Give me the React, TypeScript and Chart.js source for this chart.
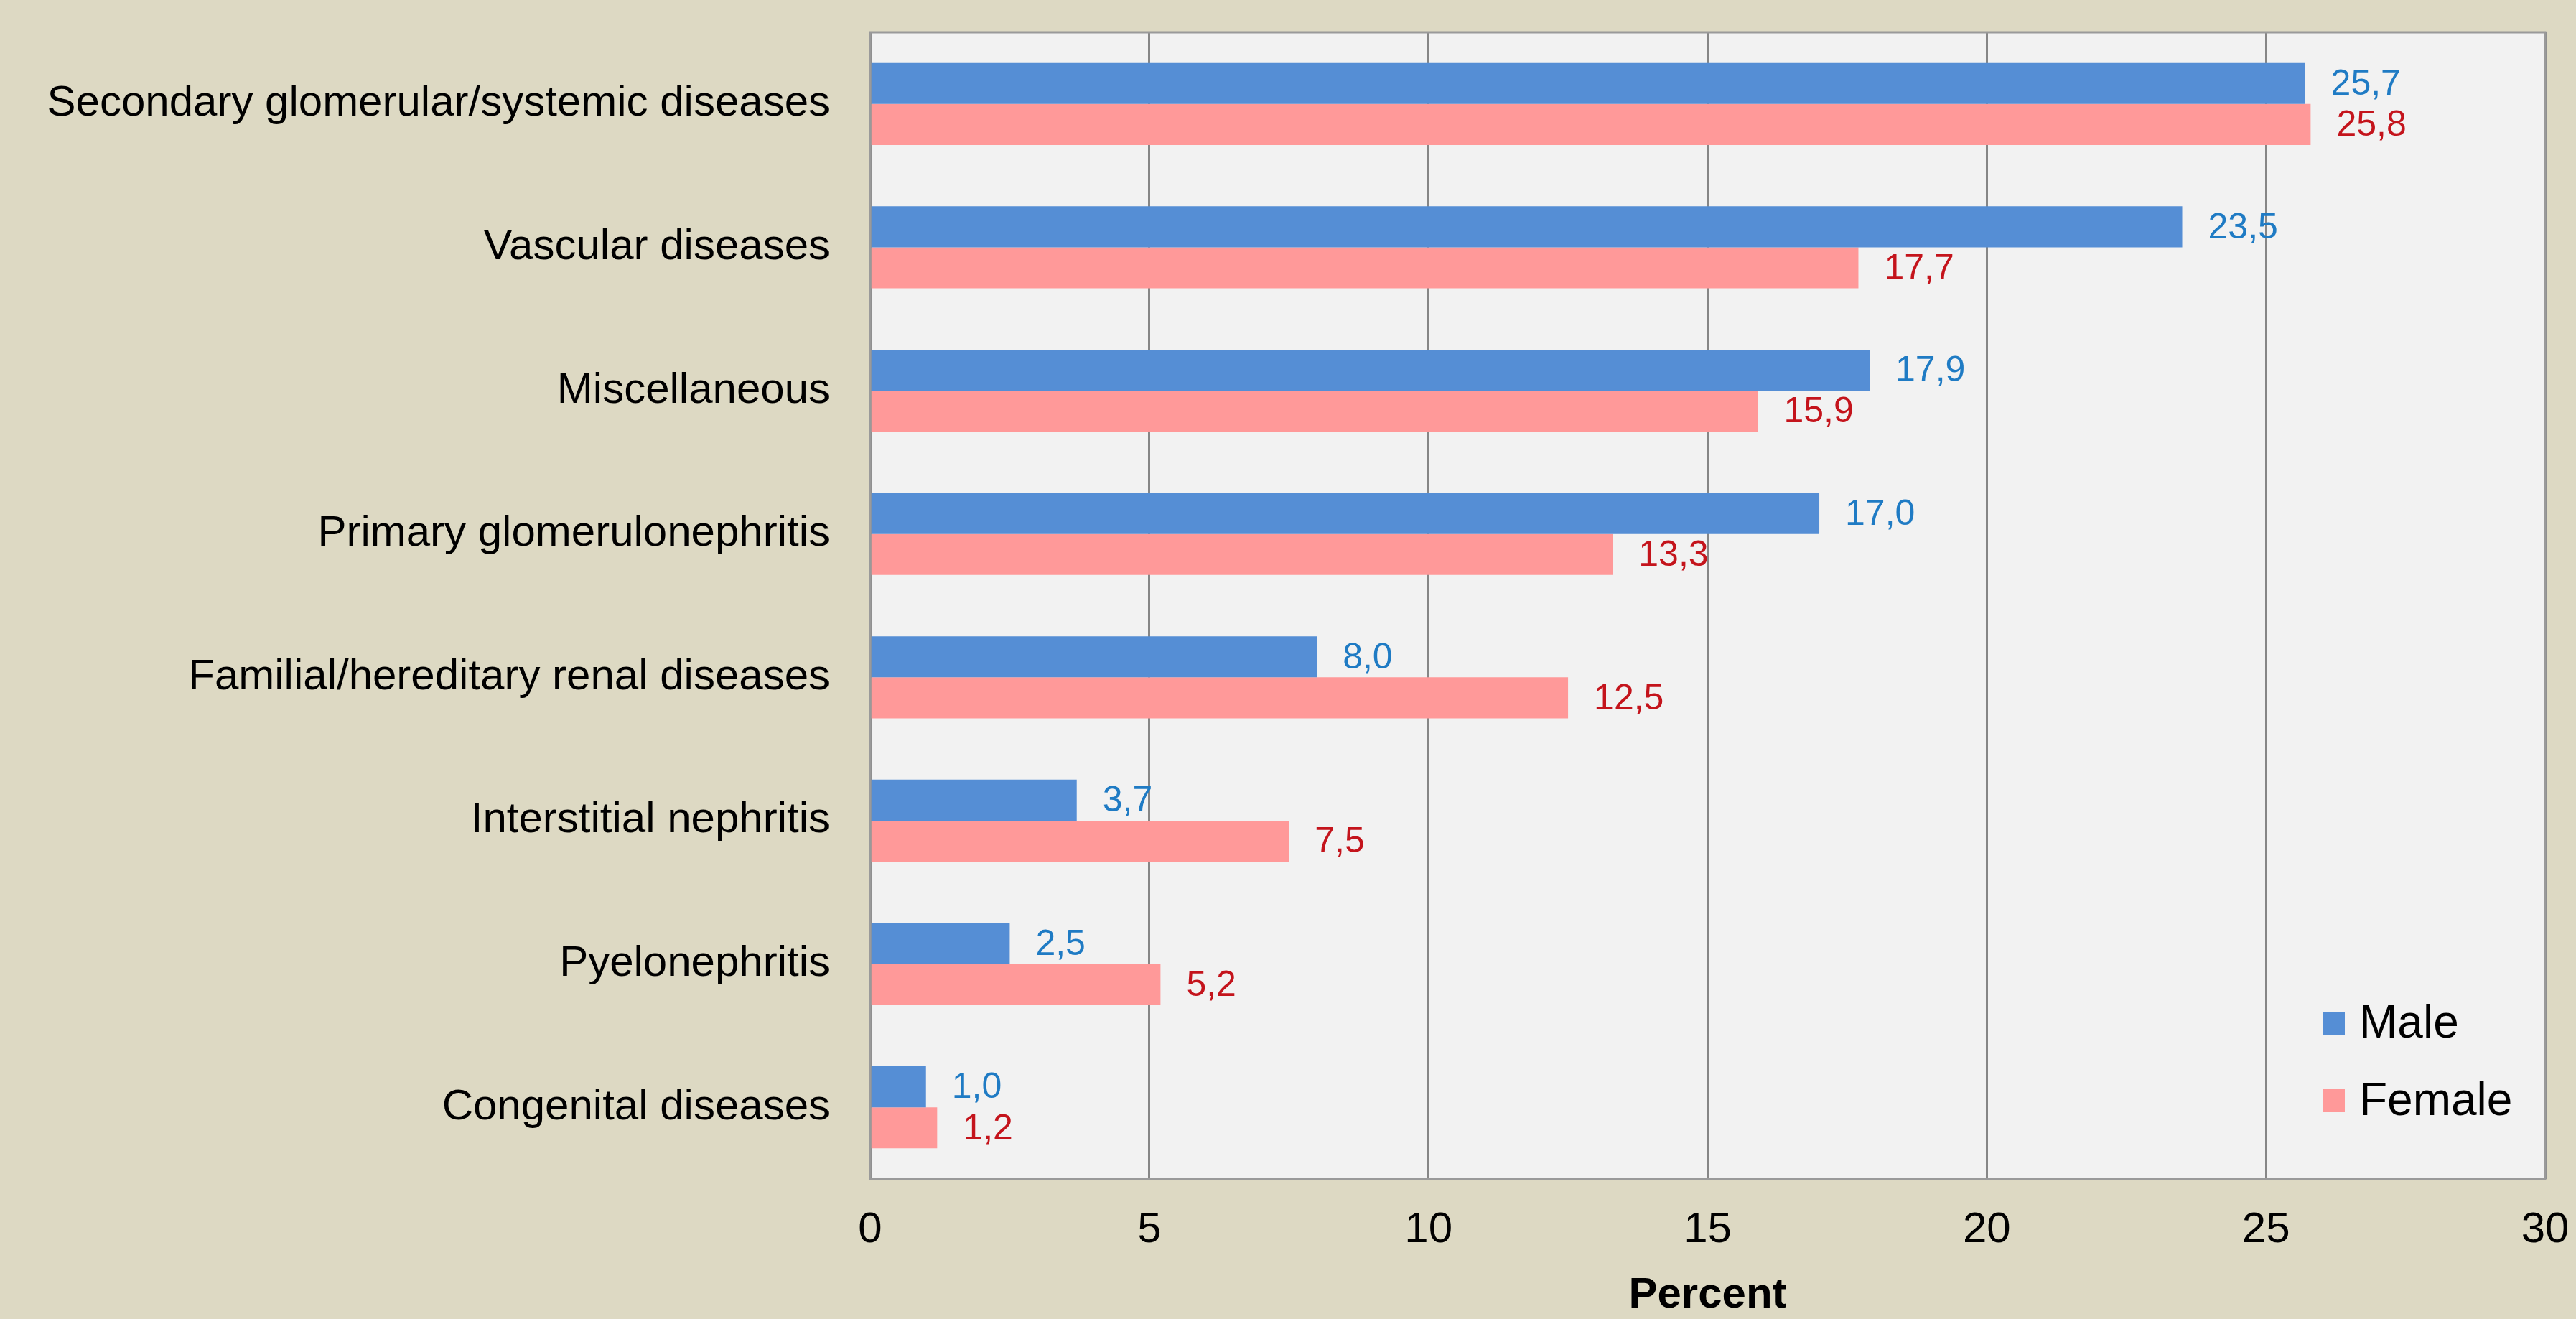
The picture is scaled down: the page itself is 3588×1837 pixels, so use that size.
import React, { useEffect, useRef } from "react";
import { Chart, registerables } from "chart.js";

Chart.register(...registerables);

const categories = [
  "Secondary glomerular/systemic diseases",
  "Vascular diseases",
  "Miscellaneous",
  "Primary glomerulonephritis",
  "Familial/hereditary renal diseases",
  "Interstitial nephritis",
  "Pyelonephritis",
  "Congenital diseases",
];
const maleValues = [25.7, 23.5, 17.9, 17.0, 8.0, 3.7, 2.5, 1.0];
const femaleValues = [25.8, 17.7, 15.9, 13.3, 12.5, 7.5, 5.2, 1.2];
const seriesNames = ["Male", "Female"];
const axisTitle = "Percent";
const xMin = 0;
const xMax = 30;
const xStep = 5;

const FONT = '"Liberation Sans", Arial, sans-serif';
const BAR_COLORS = ["#558ed5", "#ff9999"];
const LABEL_COLORS = ["#1f7bc4", "#c4141c"];

const bgPlugin = {
  id: "bgPlugin",
  beforeDraw(chart: any) {
    const { ctx, chartArea } = chart;
    ctx.save();
    ctx.fillStyle = "#ddd9c3";
    ctx.fillRect(0, 0, chart.width, chart.height);
    ctx.fillStyle = "#f2f2f2";
    ctx.fillRect(chartArea.left, chartArea.top, chartArea.right - chartArea.left, chartArea.bottom - chartArea.top);
    ctx.restore();
  },
  afterDraw(chart: any) {
    const { ctx, chartArea } = chart;
    ctx.save();
    ctx.strokeStyle = "#9a9a9a";
    ctx.lineWidth = 3;
    ctx.strokeRect(chartArea.left, chartArea.top, chartArea.right - chartArea.left, chartArea.bottom - chartArea.top);
    // legend
    const ds = chart.data.datasets;
    const boxX = chartArea.right - 310;
    const centers = [chartArea.bottom - 217, chartArea.bottom - 109];
    ctx.font = `64px ${FONT}`;
    ctx.textAlign = "left";
    ctx.textBaseline = "middle";
    ds.forEach((d: any, i: number) => {
      ctx.fillStyle = d.backgroundColor;
      ctx.fillRect(boxX, centers[i] - 16, 31, 32);
      ctx.fillStyle = "#000";
      ctx.fillText(d.label, boxX + 51, centers[i] + 2);
    });
    ctx.restore();
  },
};

const valueLabelPlugin = {
  id: "valueLabelPlugin",
  afterDatasetsDraw(chart: any) {
    const { ctx } = chart;
    ctx.save();
    ctx.font = `50px ${FONT}`;
    ctx.textAlign = "left";
    ctx.textBaseline = "middle";
    chart.data.datasets.forEach((d: any, di: number) => {
      const meta = chart.getDatasetMeta(di);
      ctx.fillStyle = LABEL_COLORS[di];
      meta.data.forEach((el: any, i: number) => {
        const v = d.data[i] as number;
        ctx.fillText(v.toFixed(1).replace(".", ","), el.x + 36, el.y + 2);
      });
    });
    ctx.restore();
  },
};

export default function App() {
  const ref = useRef<HTMLCanvasElement | null>(null);
  useEffect(() => {
    document.body.style.margin = "0";
    const canvas = ref.current!;
    const chart = new Chart(canvas, {
      type: "bar",
      data: {
        labels: categories,
        datasets: [
          {
            label: seriesNames[0],
            data: maleValues,
            backgroundColor: BAR_COLORS[0],
            categoryPercentage: 0.572,
            barPercentage: 1.0,
          },
          {
            label: seriesNames[1],
            data: femaleValues,
            backgroundColor: BAR_COLORS[1],
            categoryPercentage: 0.572,
            barPercentage: 1.0,
          },
        ],
      },
      options: {
        indexAxis: "y",
        responsive: false,
        animation: false,
        devicePixelRatio: 1,
        layout: { padding: { top: 45, right: 43, left: 0, bottom: 0 } },
        plugins: {
          legend: { display: false },
          tooltip: { enabled: false },
        },
        scales: {
          x: {
            min: xMin,
            max: xMax,
            ticks: {
              stepSize: xStep,
              color: "#000",
              font: { family: FONT, size: 60 },
              padding: 35,
            },
            grid: { color: "#868686", lineWidth: 3, drawTicks: false },
            border: { display: false },
            title: {
              display: true,
              text: axisTitle,
              color: "#000",
              font: { family: FONT, size: 60, weight: "bold", lineHeight: 1.1 },
              padding: 0,
            },
            afterFit(scale: any) {
              scale.height = 195;
              scale.paddingLeft = 0;
              scale.paddingRight = 0;
            },
          },
          y: {
            ticks: {
              color: "#000",
              font: { family: FONT, size: 60 },
              padding: 56,
              crossAlign: "near",
            },
            grid: { display: false, drawTicks: false },
            border: { display: false },
            afterFit(scale: any) {
              scale.width = 1212;
              scale.paddingTop = 0;
              scale.paddingBottom = 0;
            },
          },
        },
      },
      plugins: [bgPlugin, valueLabelPlugin],
    } as any);
    return () => chart.destroy();
  }, []);
  return (
    <canvas
      ref={ref}
      width={3588}
      height={1837}
      style={{ display: "block", width: "3588px", height: "1837px" }}
    />
  );
}
